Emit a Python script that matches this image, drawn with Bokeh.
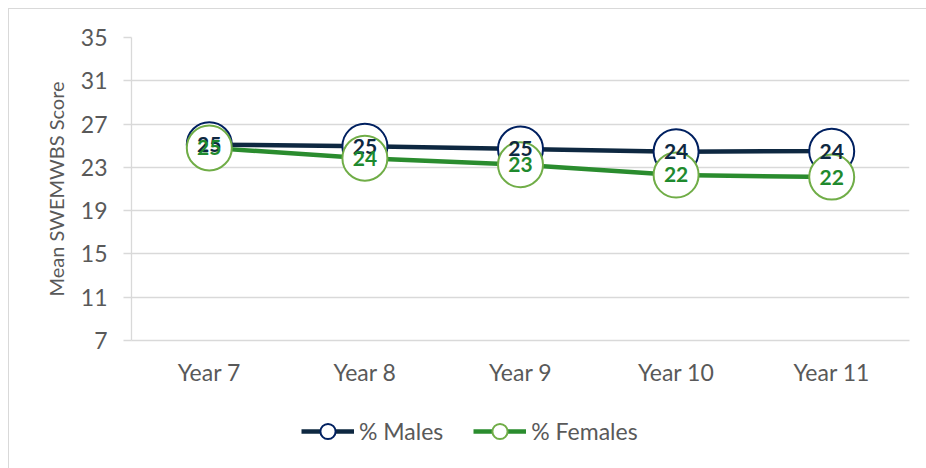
from bokeh.plotting import figure
from bokeh.layouts import column
from bokeh.models import ColumnDataSource, Legend, LegendItem, FixedTicker, Range1d, FactorRange
from bokeh.embed import file_html
from bokeh.resources import INLINE
from bokeh.core.properties import value

categories = ["Year 7", "Year 8", "Year 9", "Year 10", "Year 11"]
males = [25.1, 24.95, 24.7, 24.45, 24.5]
females = [24.8, 23.85, 23.25, 22.3, 22.1]
male_labels = [str(round(v)) for v in males]
female_labels = [str(round(v)) for v in females]
y_ticks = [7, 11, 15, 19, 23, 27, 31, 35]
series_names = ["% Males", "% Females"]

NAVY_LINE = "#0E2841"
NAVY_MARK = "#002060"
GREEN_LINE = "#2A8C2E"
GREEN_MARK = "#70AD47"
GREEN_TEXT = "#1F8A2E"
GREY_TEXT = "#595959"
GRID = "#D9D9D9"
FONT = "Lato"

src = ColumnDataSource(dict(x=categories, m=males, f=females, ml=male_labels, fl=female_labels))

p = figure(width=918, height=400, x_range=FactorRange(*categories), y_range=Range1d(7, 35),
           output_backend="svg", toolbar_location=None,
           min_border_left=122, min_border_top=28, min_border_right=18, min_border_bottom=69)
p.outline_line_color = None
p.background_fill_color = "white"

p.xgrid.grid_line_color = None
p.ygrid.grid_line_color = GRID
p.ygrid.grid_line_width = 1.3

p.yaxis.ticker = FixedTicker(ticks=y_ticks)
p.yaxis.axis_line_color = GRID
p.yaxis.axis_line_width = 1.3
p.yaxis.major_tick_line_color = GRID
p.yaxis.major_tick_line_width = 1.3
p.yaxis.major_tick_out = 8
p.yaxis.major_tick_in = 0
p.yaxis.minor_tick_line_color = None
p.yaxis.major_label_text_font = FONT
p.yaxis.major_label_text_font_size = "23px"
p.yaxis.major_label_text_color = GREY_TEXT
p.yaxis.major_label_standoff = 16
p.yaxis.axis_label = "Mean SWEMWBS Score"
p.yaxis.axis_label_text_font = FONT
p.yaxis.axis_label_text_font_style = "normal"
p.yaxis.axis_label_text_font_size = "20px"
p.yaxis.axis_label_text_color = GREY_TEXT
p.yaxis.axis_label_standoff = 10

p.xaxis.axis_line_color = GRID
p.xaxis.axis_line_width = 1.3
p.xaxis.major_tick_line_color = None
p.xaxis.minor_tick_line_color = None
p.xaxis.major_label_text_font = FONT
p.xaxis.major_label_text_font_size = "23px"
p.xaxis.major_label_text_color = GREY_TEXT
p.xaxis.major_label_standoff = 11

# series
p.line("x", "m", source=src, line_color=NAVY_LINE, line_width=4.5)
p.scatter("x", "m", source=src, size=45, marker="circle", fill_color="white",
          line_color=NAVY_MARK, line_width=2)
p.line("x", "f", source=src, line_color=GREEN_LINE, line_width=4.5)
p.scatter("x", "f", source=src, size=45, marker="circle", fill_color="white",
          line_color=GREEN_MARK, line_width=2)
p.text("x", "m", text="ml", source=src, text_align="center", text_baseline="middle",
       text_font=value(FONT), text_font_style="bold", text_font_size="21px", text_color=NAVY_LINE)
p.text("x", "f", text="fl", source=src, text_align="center", text_baseline="middle",
       text_font=value(FONT), text_font_style="bold", text_font_size="21px", text_color=GREEN_TEXT)

# legend strip (separate small figure below the chart)
lg = figure(width=918, height=60, x_range=Range1d(0, 1), y_range=Range1d(0, 1),
            output_backend="svg", toolbar_location=None,
            min_border_left=0, min_border_right=0, min_border_top=0, min_border_bottom=0)
lg.axis.visible = False
lg.grid.grid_line_color = None
lg.outline_line_color = None
lsrc = ColumnDataSource(dict(x=[float("nan")], y=[float("nan")]))
lm1 = lg.line("x", "y", source=lsrc, line_color=NAVY_LINE, line_width=4.5)
lm2 = lg.scatter("x", "y", source=lsrc, size=15, fill_color="white", line_color=NAVY_MARK, line_width=2)
lf1 = lg.line("x", "y", source=lsrc, line_color=GREEN_LINE, line_width=4.5)
lf2 = lg.scatter("x", "y", source=lsrc, size=15, fill_color="white", line_color=GREEN_MARK, line_width=2)

legend = Legend(items=[LegendItem(label=series_names[0], renderers=[lm1, lm2]),
                       LegendItem(label=series_names[1], renderers=[lf1, lf2])],
                orientation="horizontal", location=(170, 19),
                label_text_font=FONT, label_text_font_size="23px", label_text_color=GREY_TEXT,
                glyph_width=53, glyph_height=38, label_standoff=5, spacing=30,
                border_line_color=None, background_fill_alpha=0, margin=0, padding=0)
lg.add_layout(legend, "center")

layout = column(p, lg, spacing=0)
layout.styles = {"border-top": "1.5px solid #D9D9D9", "border-left": "1.5px solid #D9D9D9",
                 "margin-left": "8px", "margin-top": "8px"}

open("out.html", "w").write(file_html(layout, INLINE))
